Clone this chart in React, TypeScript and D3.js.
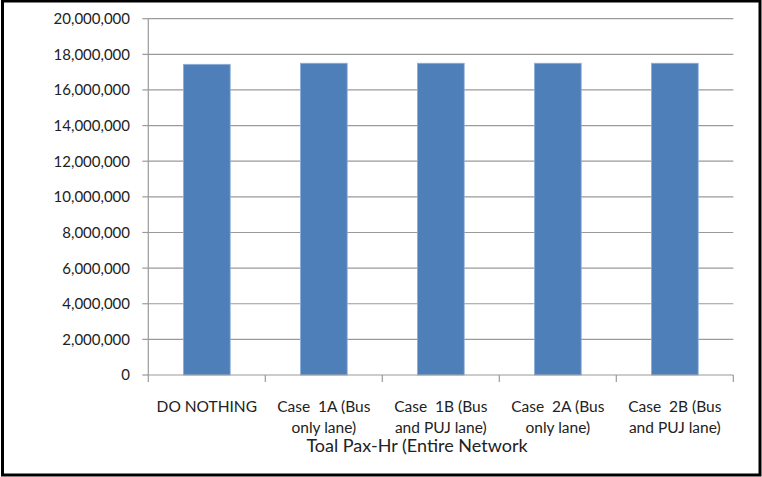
import React from "react";
import * as d3 from "d3";

const categories: string[][] = [
  ["DO NOTHING"],
  ["Case  1A (Bus", "only lane)"],
  ["Case  1B (Bus", "and PUJ lane)"],
  ["Case  2A (Bus", "only lane)"],
  ["Case  2B (Bus", "and PUJ lane)"],
];
const paxHours: number[] = [17440000, 17500000, 17500000, 17500000, 17500000];
const yTicks: number[] = [0, 2000000, 4000000, 6000000, 8000000, 10000000, 12000000, 14000000, 16000000, 18000000, 20000000];
const xTitle = "Toal Pax-Hr (Entire Network";

const W = 762;
const H = 477;
const plot = { left: 148.3, right: 733.3, top: 18.7, bottom: 375 };
const font = "Lato, 'Open Sans', sans-serif";

export default function App() {
  const keys = categories.map((c) => c.join(" "));
  const x = d3.scaleBand<string>().domain(keys).range([plot.left, plot.right]).paddingInner(0).paddingOuter(0);
  const y = d3.scaleLinear().domain([0, 20000000]).range([plot.bottom, plot.top]);
  const bw = x.bandwidth() / 2.5;
  const fmt = d3.format(",");
  const boundaries = keys.map((k) => x(k) as number).concat([plot.right]);

  return (
    <svg width={W} height={H} style={{ position: "absolute", left: 0, top: 0, background: "#fff" }} fontFamily={font}>
      <rect x={0} y={0} width={W} height={H} fill="#fff" />
      {yTicks.filter((t) => t > 0).map((t) => (
        <line key={"g" + t} x1={plot.left} x2={plot.right} y1={y(t)} y2={y(t)} stroke="#9a9a9a" strokeWidth={1.2} />
      ))}
      {yTicks.map((t) => (
        <g key={"t" + t}>
          <line x1={plot.left - 6} x2={plot.left} y1={y(t)} y2={y(t)} stroke="#9a9a9a" strokeWidth={1.2} />
          <text x={130} y={y(t)} dy="0.36em" textAnchor="end" fontSize={15} fill="#222">
            {fmt(t)}
          </text>
        </g>
      ))}
      <line x1={plot.left} x2={plot.left} y1={plot.top} y2={plot.bottom} stroke="#9a9a9a" strokeWidth={1.2} />
      {paxHours.map((v, i) => {
        const cx = (x(keys[i]) as number) + x.bandwidth() / 2;
        return (
          <rect key={"b" + i} x={cx - bw / 2} y={y(v)} width={bw} height={plot.bottom - y(v)} fill="#4f7fb8" stroke="#8eb0dc" strokeWidth={0.8} />
        );
      })}
      <line x1={plot.left} x2={plot.right} y1={plot.bottom} y2={plot.bottom} stroke="#9a9a9a" strokeWidth={1.2} />
      {boundaries.map((bx, i) => (
        <line key={"xt" + i} x1={bx} x2={bx} y1={plot.bottom} y2={plot.bottom + 7} stroke="#9a9a9a" strokeWidth={1.2} />
      ))}
      {categories.map((lines, i) => {
        const cx = (x(keys[i]) as number) + x.bandwidth() / 2;
        return (
          <text key={"xl" + i} x={cx} y={412} textAnchor="middle" fontSize={15.5} fill="#222">
            {lines.map((l, j) => (
              <tspan key={j} x={cx} dy={j === 0 ? 0 : 21} style={{ whiteSpace: "pre" }}>
                {l}
              </tspan>
            ))}
          </text>
        );
      })}
      <text x={417} y={452} textAnchor="middle" fontSize={18} fill="#222">
        {xTitle}
      </text>
      <rect x={2.5} y={1} width={757.5} height={474} fill="none" stroke="#000" strokeWidth={3} />
    </svg>
  );
}
